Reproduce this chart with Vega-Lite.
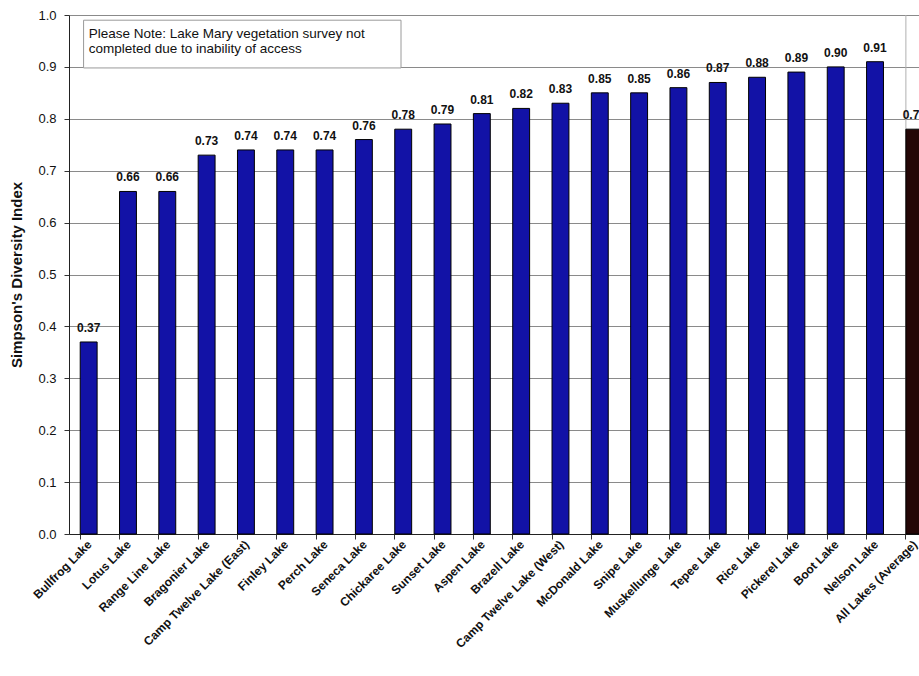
{
  "$schema": "https://vega.github.io/schema/vega-lite/v6.json",
  "autosize": {"type": "none"},
  "padding": {"left": 69, "top": 15, "right": 0, "bottom": 142},
  "width": 850,
  "height": 519,
  "background": "white",
  "config": {"view": {"stroke": null}, "font": "Liberation Sans"},
  "datasets": {
    "lakes": [
      {"lake": "Bullfrog Lake", "index": 0.37, "group": "lake"},
      {"lake": "Lotus Lake", "index": 0.66, "group": "lake"},
      {"lake": "Range Line Lake", "index": 0.66, "group": "lake"},
      {"lake": "Bragonier Lake", "index": 0.73, "group": "lake"},
      {"lake": "Camp Twelve Lake (East)", "index": 0.74, "group": "lake"},
      {"lake": "Finley Lake", "index": 0.74, "group": "lake"},
      {"lake": "Perch Lake", "index": 0.74, "group": "lake"},
      {"lake": "Seneca Lake", "index": 0.76, "group": "lake"},
      {"lake": "Chickaree Lake", "index": 0.78, "group": "lake"},
      {"lake": "Sunset Lake", "index": 0.79, "group": "lake"},
      {"lake": "Aspen Lake", "index": 0.81, "group": "lake"},
      {"lake": "Brazell Lake", "index": 0.82, "group": "lake"},
      {"lake": "Camp Twelve Lake (West)", "index": 0.83, "group": "lake"},
      {"lake": "McDonald Lake", "index": 0.85, "group": "lake"},
      {"lake": "Snipe Lake", "index": 0.85, "group": "lake"},
      {"lake": "Muskellunge Lake", "index": 0.86, "group": "lake"},
      {"lake": "Tepee Lake", "index": 0.87, "group": "lake"},
      {"lake": "Rice Lake", "index": 0.88, "group": "lake"},
      {"lake": "Pickerel Lake", "index": 0.89, "group": "lake"},
      {"lake": "Boot Lake", "index": 0.90, "group": "lake"},
      {"lake": "Nelson Lake", "index": 0.91, "group": "lake"},
      {"lake": "All Lakes (Average)", "index": 0.78, "group": "average"}
    ],
    "note": [
      {"text": ["Please Note: Lake Mary vegetation survey not", "completed due to inability of access"]}
    ]
  },
  "resolve": {"axis": {"x": "independent"}},
  "layer": [
    {
      "data": {"name": "lakes"},
      "mark": {"type": "tick", "opacity": 0},
      "encoding": {
        "x": {
          "field": "lake", "type": "nominal", "sort": null,
          "scale": {"range": [0, 865], "paddingInner": 0.57, "paddingOuter": 0.285},
          "axis": {"orient": "bottom", "bandPosition": 0, "labels": false, "ticks": true, "tickSize": 5, "tickColor": "#333", "domain": false, "grid": false, "title": null}
        },
        "y": {"field": "index", "type": "quantitative"}
      }
    },
    {
      "data": {"name": "note"},
      "mark": {"type": "rule", "color": "#b0b0b0", "strokeWidth": 1},
      "encoding": {
        "x": {"datum": "All Lakes (Average)", "bandPosition": 0, "axis": null},
        "y": {"datum": 0},
        "y2": {"datum": 1}
      }
    },
    {
      "data": {"name": "lakes"},
      "mark": {"type": "bar", "stroke": "black", "strokeWidth": 1},
      "encoding": {
        "x": {
          "field": "lake", "type": "nominal", "sort": null,
          "axis": {"orient": "bottom", "title": null, "ticks": false, "domainColor": "#222", "labelAngle": -45, "labelAlign": "right", "labelBaseline": "middle", "labelFontSize": 12, "labelFontWeight": "bold", "labelColor": "#111", "labelPadding": 8, "labelOffset": 1, "labelOverlap": false, "labelLimit": 300}
        },
        "y": {
          "field": "index", "type": "quantitative",
          "scale": {"domain": [0, 1], "nice": false},
          "axis": {"title": "Simpson's Diversity Index", "titleFontSize": 15, "titleFontWeight": "bold", "titleColor": "#111", "titlePadding": 13, "values": [0, 0.1, 0.2, 0.3, 0.4, 0.5, 0.6, 0.7, 0.8, 0.9, 1.0], "format": ".1f", "labelFontSize": 13, "labelColor": "#111", "labelPadding": 8, "tickSize": 5, "tickColor": "#333", "domainColor": "#222", "grid": true, "gridColor": "#8a8a8a", "gridWidth": 1}
        },
        "color": {
          "field": "group", "type": "nominal", "legend": null,
          "scale": {"domain": ["lake", "average"], "range": ["#1212a6", "#240606"]}
        }
      }
    },
    {
      "data": {"name": "lakes"},
      "mark": {"type": "text", "dy": -7, "fontSize": 12, "fontWeight": "bold", "color": "#111", "baseline": "bottom"},
      "encoding": {
        "x": {"field": "lake", "type": "nominal", "sort": null, "axis": null},
        "y": {"field": "index", "type": "quantitative"},
        "text": {"field": "index", "type": "quantitative", "format": ".2f"}
      }
    },
    {
      "data": {"name": "note"},
      "mark": {"type": "rect", "fill": "white", "stroke": "#9a9a9a", "strokeWidth": 1},
      "encoding": {
        "x": {"datum": "Bullfrog Lake", "bandPosition": 0.2, "axis": null},
        "x2": {"datum": "Chickaree Lake", "bandPosition": 0.37},
        "y": {"datum": 0.99},
        "y2": {"datum": 0.898}
      }
    },
    {
      "data": {"name": "note"},
      "mark": {"type": "text", "align": "left", "baseline": "top", "fontSize": 13.5, "lineHeight": 15, "color": "#111"},
      "encoding": {
        "x": {"datum": "Bullfrog Lake", "bandPosition": 0.5, "axis": null},
        "y": {"datum": 0.977},
        "text": {"field": "text"}
      }
    }
  ]
}
